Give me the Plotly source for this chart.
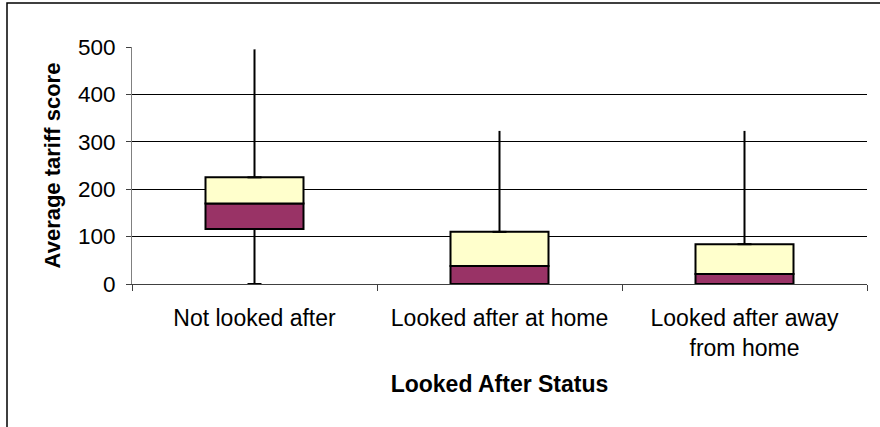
import plotly.graph_objects as go

categories = ["Not looked after", "Looked after at home", "Looked after away<br>from home"]
minimum = [0, 0, 0]
q1 = [116, 0, 0]
median = [170, 38, 21]
q3 = [225, 110, 84]
maximum = [495, 323, 323]
y_ticks = [0, 100, 200, 300, 400, 500]

lower = [m - a for m, a in zip(median, q1)]
upper = [b - m for b, m in zip(q3, median)]

font_family = "Liberation Sans, Arial, sans-serif"

fig = go.Figure()

# whiskers
wx, wy = [], []
for c, mn, a, b, mx in zip(categories, minimum, q1, q3, maximum):
    wx += [c, c, None, c, c, None]
    wy += [mn, a, None, b, mx, None]
fig.add_trace(go.Scatter(x=wx, y=wy, mode="lines", line=dict(color="black", width=2),
                         hoverinfo="skip", showlegend=False, cliponaxis=False))
fig.add_trace(go.Scatter(x=categories + categories, y=minimum + q3, mode="markers",
                         marker=dict(symbol="line-ew", size=10, line=dict(color="black", width=2)),
                         hoverinfo="skip", showlegend=False, cliponaxis=False))

fig.add_trace(go.Bar(x=categories, y=lower, base=q1, width=0.4,
                     marker=dict(color="#993366", line=dict(color="black", width=2)),
                     showlegend=False))
fig.add_trace(go.Bar(x=categories, y=upper, base=median, width=0.4,
                     marker=dict(color="#FFFFCC", line=dict(color="black", width=2)),
                     showlegend=False))

fig.update_layout(
    width=880, height=427,
    margin=dict(l=132, r=13, t=47, b=143),
    paper_bgcolor="white", plot_bgcolor="white",
    barmode="overlay",
    font=dict(family=font_family, size=23, color="black"),
    xaxis=dict(
        type="category", tickson="boundaries", ticks="outside", ticklen=6,
        tickcolor="#404040", showline=True, linecolor="#404040", linewidth=1,
        showgrid=False, tickfont=dict(size=23), ticklabelstandoff=13,
        title=dict(text="<b>Looked After Status</b>", font=dict(size=23), standoff=16),
    ),
    yaxis=dict(
        range=[0, 500], tickvals=y_ticks, ticks="outside", ticklen=5,
        tickcolor="#404040", showline=True, linecolor="#808080", linewidth=1,
        showgrid=True, gridcolor="#000000", gridwidth=1, zeroline=False,
        tickfont=dict(size=22.5), ticklabelstandoff=6,
        title=dict(text="<b>Average tariff score</b>", font=dict(size=22), standoff=11),
    ),
    shapes=[dict(type="rect", xref="paper", yref="paper",
                 x0=(7 - 132) / 735, x1=(895 - 132) / 735,
                 y0=(284 - 440) / 237, y1=(284 - 3) / 237,
                 line=dict(color="black", width=1.5), fillcolor="rgba(0,0,0,0)", layer="below")],
)

fig.write_html("out.html", config={"displayModeBar": False},
               post_script="document.body.style.margin='0';document.body.style.padding='0';")
